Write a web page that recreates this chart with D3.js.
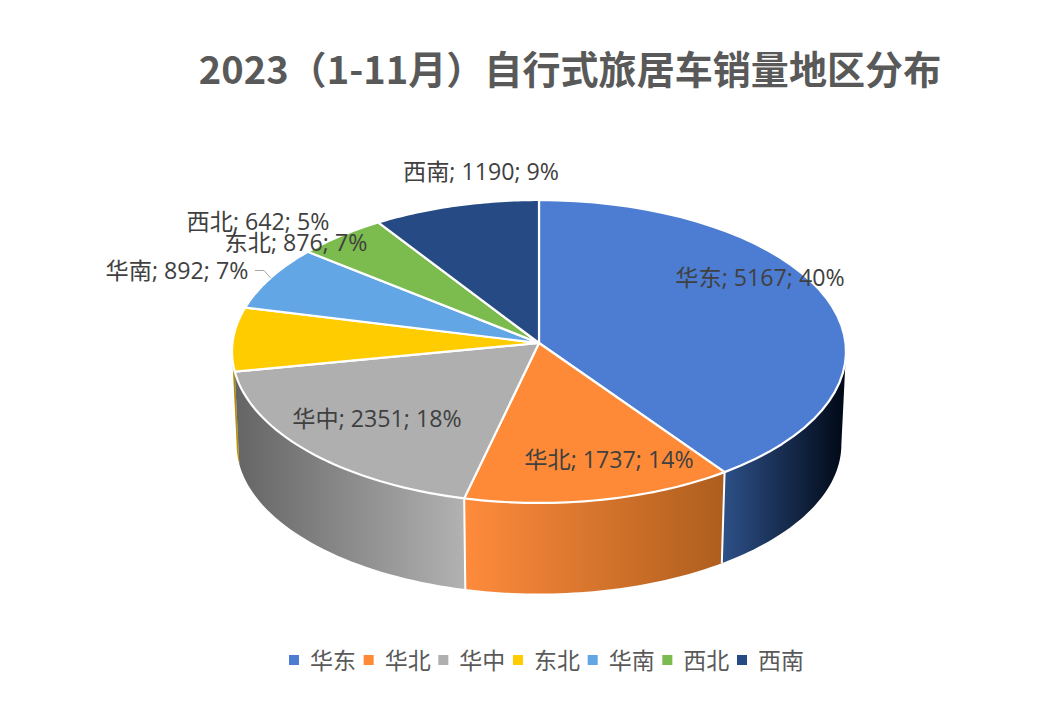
<!DOCTYPE html>
<html>
<head>
<meta charset="utf-8">
<script src="https://cdn.jsdelivr.net/npm/d3@7/dist/d3.min.js"></script>
<style>
  html, body { margin: 0; padding: 0; background: #fff; }
  svg { display: block; }
  text { font-family: "Open Sans", "Noto Sans CJK SC", sans-serif; }
  text.title { font-family: "Noto Sans CJK SC", "Open Sans", sans-serif; }
</style>
</head>
<body>
<svg id="chart" width="1061" height="726"></svg>
<script>
const titleText = "2023（1-11月）自行式旅居车销量地区分布";
const regions = ["华东", "华北", "华中", "东北", "华南", "西北", "西南"];
const sales = [5167, 1737, 2351, 876, 892, 642, 1190];
const faceColors = ["#4d7dd2", "#fe8a38", "#afafaf", "#ffcc00", "#63a6e6", "#7cbb4d", "#264a84"];
const wallLeftColors = ["#2e5189", "#ff8b3c", "#646464", "#a88600", "#3c6ea0", "#4c7a2c", "#1a3360"];
const wallRightColors = ["#000815", "#ae5e1e", "#b2b2b2", "#c09a00", "#3c6ea0", "#4c7a2c", "#1a3360"];

// Label centres for each region, in drawing order below
const labelCentres = {
  "华东": [760, 277], "华北": [609, 459], "华中": [377, 418],
  "西北": [258, 221], "东北": [296, 242], "华南": [177, 270], "西南": [481, 171]
};

const svg = d3.select("#chart");
const defs = svg.append("defs");

// Perspective tilted disc: u runs right, v runs toward the viewer
const apex = { x: 539, y: 343 };
const radiusX = 306.5, radiusY = 151, perspective = 0.056;
const wallDepth = 93, wallShrink = 0.985;

function rimPoint(theta, scale = 1, dy = 0) {
  const u = Math.sin(theta), v = -Math.cos(theta);
  const w = 1 - perspective * v;
  return [apex.x + scale * radiusX * u / w, apex.y + dy + scale * radiusY * v / w];
}

const arcSamples = (a, b) => d3.range(0, 41).map(i => a + (b - a) * i / 40);
const lineGen = d3.line();

const slices = d3.pie().sort(null).startAngle(0).endAngle(2 * Math.PI)(sales);
const total = d3.sum(sales);

// Only the front half of the rim has a visible side wall
const wallFrom = Math.PI / 2 + Math.asin(perspective);
const wallTo = 3 * Math.PI / 2 - Math.asin(perspective);

const walls = slices
  .map((s, i) => ({ i, a: Math.max(s.startAngle, wallFrom), b: Math.min(s.endAngle, wallTo) }))
  .filter(d => d.b > d.a);

const wallLayer = svg.append("g");
// Painted from the outer left wall inward so neighbours overlap cleanly
walls.slice().sort((p, q) => q.i - p.i).forEach(d => {
  const upper = arcSamples(d.a, d.b).map(t => rimPoint(t));
  const lower = arcSamples(d.a, d.b).map(t => rimPoint(t, wallShrink, wallDepth)).reverse();
  const xs = upper.concat(lower).map(p => p[0]);
  const id = "wall-" + d.i;
  const grad = defs.append("linearGradient").attr("id", id)
    .attr("gradientUnits", "userSpaceOnUse")
    .attr("x1", d3.min(xs)).attr("x2", d3.max(xs)).attr("y1", 0).attr("y2", 0);
  grad.append("stop").attr("offset", 0).attr("stop-color", wallLeftColors[d.i]);
  grad.append("stop").attr("offset", 1).attr("stop-color", wallRightColors[d.i]);
  wallLayer.append("path")
    .attr("d", lineGen(upper.concat(lower)) + "Z")
    .attr("fill", `url(#${id})`);
});

// White seams where front slices meet on the wall
walls.slice(1).filter(d => regions[d.i] !== "东北").forEach(d => {
  wallLayer.append("path")
    .attr("d", lineGen([rimPoint(d.a), rimPoint(d.a, wallShrink, wallDepth)]))
    .attr("stroke", "#fff").attr("stroke-width", 2).attr("fill", "none");
});

// Top face
svg.append("g").selectAll("path").data(slices).join("path")
  .attr("d", s => lineGen([[apex.x, apex.y]].concat(arcSamples(s.startAngle, s.endAngle).map(t => rimPoint(t)))) + "Z")
  .attr("fill", (s, i) => faceColors[i])
  .attr("stroke", "#fff").attr("stroke-width", 2.2).attr("stroke-linejoin", "round");

// Leader line for the label pushed outside the pie
const southSlice = slices[regions.indexOf("华南")];
const southAnchor = rimPoint((southSlice.startAngle + southSlice.endAngle) / 2);
svg.append("path")
  .attr("d", lineGen([[255, 270.5], [264, 270.5], [southAnchor[0], southAnchor[1]]]))
  .attr("fill", "none").attr("stroke", "#a6a6a6").attr("stroke-width", 1);

// Data labels
const labelOrder = ["西南", "华东", "华北", "华中", "华南", "西北", "东北"];
svg.append("g").selectAll("text").data(labelOrder).join("text")
  .attr("x", r => labelCentres[r][0])
  .attr("y", r => labelCentres[r][1])
  .attr("text-anchor", "middle")
  .attr("dominant-baseline", "central")
  .attr("font-size", 23.2)
  .attr("fill", "#404040")
  .text(r => {
    const v = sales[regions.indexOf(r)];
    return `${r}; ${v}; ${d3.format(".0%")(v / total)}`;
  });

// Title
svg.append("text")
  .attr("class", "title")
  .attr("x", 570).attr("y", 84)
  .attr("text-anchor", "middle")
  .attr("font-size", 38.1)
  .attr("font-weight", 700)
  .attr("fill", "#595959")
  .text(titleText);

// Legend
const legendX = d3.scalePoint().domain(regions).range([289, 737]);
const legend = svg.append("g").selectAll("g").data(regions).join("g")
  .attr("transform", r => `translate(${legendX(r)},660)`);
legend.append("rect")
  .attr("x", 0).attr("y", -5).attr("width", 10).attr("height", 10)
  .attr("fill", (r, i) => faceColors[i]);
legend.append("text")
  .attr("x", 21).attr("y", 0)
  .attr("dominant-baseline", "central")
  .attr("font-size", 23)
  .attr("fill", "#595959")
  .text(r => r);
</script>
</body>
</html>
